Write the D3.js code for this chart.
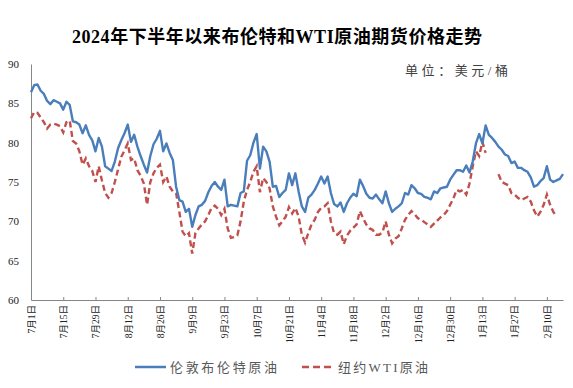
<!DOCTYPE html>
<html><head><meta charset="utf-8">
<script src="https://cdn.jsdelivr.net/npm/d3@7"></script>
<style>body{margin:0;background:#fff}svg{display:block}</style>
</head><body><svg id="c" width="573" height="388"></svg>
<script>
const tickLabels = ["7月1日","7月15日","7月29日","8月12日","8月26日","9月9日","9月23日","10月7日","10月21日","11月4日","11月18日","12月2日","12月16日","12月30日","1月13日","1月27日","2月10日"];
const yTicks = [60,65,70,75,80,85,90];
const seriesNames = ["伦敦布伦特原油","纽约WTI原油"];
const brent = [
86.4,87.3,87.4,86.6,86.2,85.3,84.9,85.4,85.2,85.0,
84.2,85.2,84.8,82.7,82.6,82.3,81.2,82.2,81.0,80.3,
78.9,80.6,79.5,77.0,76.7,76.4,77.6,79.3,80.3,81.2,
82.3,80.1,81.0,79.5,78.3,77.2,76.2,78.3,79.8,80.5,
81.5,78.9,79.9,78.7,77.8,74.4,72.7,72.5,71.2,71.6,
69.3,70.8,71.9,72.1,72.6,73.7,74.5,75.0,74.4,74.0,
75.3,71.9,72.1,72.0,71.9,73.6,73.8,77.7,78.4,80.0,
81.1,76.7,79.5,78.9,77.6,74.4,74.5,73.1,73.6,74.0,
76.1,74.6,76.1,73.8,71.9,71.2,73.0,73.4,74.0,74.8,
75.7,74.8,75.7,73.6,72.2,71.9,72.4,71.2,72.3,73.0,
73.5,73.2,75.3,74.5,73.5,73.0,72.9,73.4,72.8,72.3,
73.8,72.3,71.2,71.6,71.9,72.3,73.6,73.4,74.6,74.2,
73.6,73.5,73.1,73.0,72.8,73.8,73.6,74.2,74.3,74.4,
75.3,75.9,76.5,76.5,76.3,77.1,76.2,77.6,79.9,81.1,
79.9,82.2,81.0,80.6,80.1,79.5,79.1,78.5,78.3,77.4,
77.6,76.8,76.8,76.5,76.3,75.6,74.4,74.6,75.1,75.5,
77.0,75.3,75.0,75.2,75.4,76.0];
const wti = [
83.1,83.9,83.8,83.2,82.6,81.8,82.3,82.4,82.3,82.1,
81.3,82.6,82.8,80.2,79.9,78.9,77.2,78.0,77.0,76.4,
75.0,77.0,75.2,73.6,73.0,73.6,75.0,76.6,78.2,79.0,
79.9,77.8,78.0,76.5,75.8,74.8,72.1,75.0,76.1,76.8,
77.2,75.0,75.7,74.4,73.8,73.6,71.2,68.7,68.1,68.5,
65.9,68.5,69.1,69.6,70.0,70.8,71.7,72.0,71.6,70.8,
71.6,69.1,67.9,68.0,68.2,70.0,72.5,74.0,75.0,76.3,
77.0,73.7,75.5,75.0,74.2,71.9,70.6,69.5,70.0,70.6,
71.8,71.0,71.7,70.6,68.3,67.3,68.5,69.6,70.2,71.2,
71.7,71.9,72.3,70.0,68.5,68.3,68.7,67.1,68.2,68.8,
69.2,69.6,71.3,70.4,69.6,69.1,68.9,68.3,68.3,68.6,
70.0,68.3,67.2,67.8,68.1,69.1,70.2,70.8,71.3,70.9,
70.4,70.2,69.9,69.6,69.3,69.7,70.1,70.5,70.8,71.3,
72.1,72.9,74.0,73.8,74.0,73.4,74.8,77.0,78.9,78.3,
80.1,78.7,null,null,null,76.0,75.0,74.8,74.6,73.6,
73.4,73.0,72.7,72.9,73.1,72.5,71.4,70.6,71.2,72.1,
73.4,72.1,71.2,70.6,null,null];

const svg = d3.select("#c");
const blue = "#4a7ebb", red = "#c0504d", axisCol = "#868686";
const serif = "'Liberation Serif','Times New Roman','Noto Sans CJK SC',serif";

const x = d3.scaleLinear().domain([0, brent.length - 1]).range([31, 563]);
const y = d3.scaleLinear().domain([60, 90]).range([300, 64]);

// title
svg.append("text").attr("x", 277).attr("y", 43).attr("text-anchor", "middle")
  .attr("font-family", serif).attr("font-weight", "bold").attr("font-size", 18)
  .attr("fill", "#000").attr("textLength", 410).attr("lengthAdjust", "spacing")
  .text("2024年下半年以来布伦特和WTI原油期货价格走势");
// unit
svg.append("text").attr("x", 405).attr("y", 75)
  .attr("font-family", serif).attr("font-size", 13).attr("fill", "#404040")
  .attr("textLength", 103).attr("lengthAdjust", "spacing")
  .text("单位：美元/桶");

// y axis
const ya = svg.append("g").attr("transform", "translate(31,0)")
  .call(d3.axisLeft(y).tickValues(yTicks).tickSize(0).tickPadding(12));
ya.select(".domain").attr("stroke", axisCol);
ya.selectAll("text").attr("font-family", serif).attr("font-size", 11).attr("fill", "#222");

// x axis
const xa = svg.append("g").attr("transform", "translate(0,300)")
  .call(d3.axisBottom(x).tickValues(d3.range(0, 161, 10))
    .tickFormat((d, i) => tickLabels[i]).tickSizeInner(-3).tickSizeOuter(0));
xa.select(".domain").attr("stroke", axisCol);
xa.selectAll(".tick line").attr("stroke", axisCol);
xa.selectAll("text").attr("font-family", serif).attr("font-size", 9.5).attr("fill", "#222")
  .attr("transform", "rotate(-90)").attr("text-anchor", "end")
  .attr("x", -5).attr("y", 0).attr("dy", "0.35em");

// lines
const line = d3.line().defined(d => d != null).x((d, i) => x(i)).y(d => y(d));
svg.append("path").datum(wti).attr("d", line).attr("fill", "none")
  .attr("stroke", red).attr("stroke-width", 2.4).attr("stroke-dasharray", "6,3.5");
svg.append("path").datum(brent).attr("d", line).attr("fill", "none")
  .attr("stroke", blue).attr("stroke-width", 2.4).attr("stroke-linejoin", "round");

// legend
const lg = svg.append("g");
lg.append("line").attr("x1", 135).attr("x2", 166).attr("y1", 367).attr("y2", 367)
  .attr("stroke", blue).attr("stroke-width", 2.5);
lg.append("text").attr("x", 170).attr("y", 372).attr("font-family", serif).attr("font-size", 13)
  .attr("fill", "#595959").attr("textLength", 107).attr("lengthAdjust", "spacing").text(seriesNames[0]);
lg.append("line").attr("x1", 302).attr("x2", 334).attr("y1", 367).attr("y2", 367)
  .attr("stroke", red).attr("stroke-width", 2.5).attr("stroke-dasharray", "7,4");
lg.append("text").attr("x", 338).attr("y", 372).attr("font-family", serif).attr("font-size", 13)
  .attr("fill", "#595959").attr("textLength", 90).attr("lengthAdjust", "spacing").text(seriesNames[1]);
</script></body></html>
